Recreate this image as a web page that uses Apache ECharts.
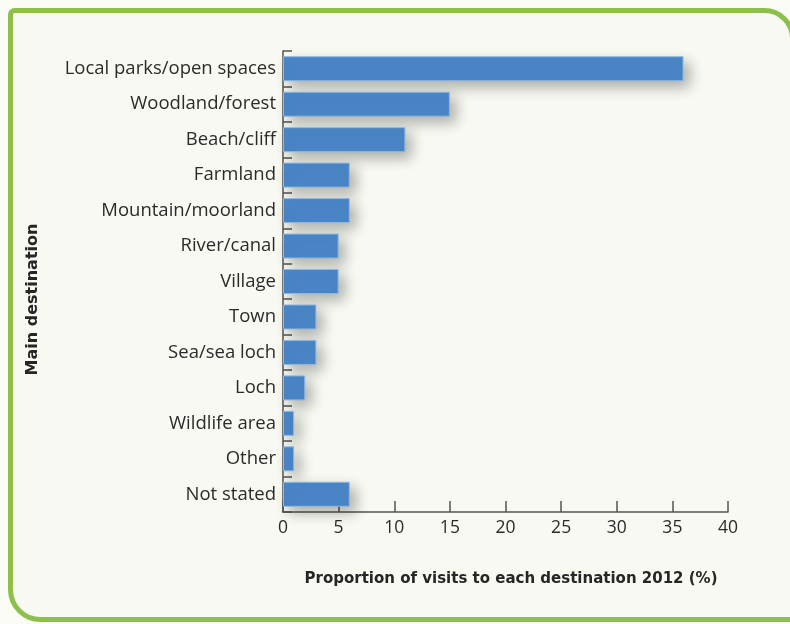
<!DOCTYPE html>
<html>
<head>
<meta charset="utf-8">
<script src="https://cdn.jsdelivr.net/npm/echarts@6/dist/echarts.min.js"></script>
<style>
html,body{margin:0;padding:0;background:#fbfbf6;}
#chart{width:790px;height:624px;}
</style>
</head>
<body>
<div id="chart"></div>
<script>
const categories = ["Local parks/open spaces","Woodland/forest","Beach/cliff","Farmland","Mountain/moorland","River/canal","Village","Town","Sea/sea loch","Loch","Wildlife area","Other","Not stated"];
const values = [36, 15, 11, 6, 6, 5, 5, 3, 3, 2, 1, 1, 6];
const xTicks = [0, 5, 10, 15, 20, 25, 30, 35, 40];
const xTitle = "Proportion of visits to each destination 2012 (%)";
const yTitle = "Main destination";

const chart = echarts.init(document.getElementById('chart'));
chart.setOption({
  backgroundColor: 'transparent',
  animation: false,
  graphic: [{
    type: 'rect',
    z: -10,
    shape: {x: 10.5, y: 10.5, width: 782, height: 609, r: [4, 28, 0, 30]},
    style: {fill: '#f7f9f2', stroke: '#8cc04b', lineWidth: 5}
  }],
  grid: {left: 283, right: 62, top: 51, bottom: 112},
  xAxis: {
    type: 'value', min: xTicks[0], max: xTicks[xTicks.length - 1], interval: 5,
    name: xTitle, nameLocation: 'middle', nameGap: 60,
    nameTextStyle: {fontFamily: 'DejaVu Sans', fontWeight: 'bold', fontSize: 15, color: '#262626', padding: [0, 0, 0, 11]},
    axisLine: {show: true, lineStyle: {color: '#555', width: 1.5}},
    axisTick: {show: true, inside: true, length: 11, lineStyle: {color: '#555', width: 1.5}},
    axisLabel: {fontFamily: 'Open Sans', fontSize: 17.5, color: '#2b2b2b', margin: 7},
    splitLine: {show: false}
  },
  yAxis: {
    type: 'category', data: categories, inverse: true,
    name: yTitle, nameLocation: 'middle', nameGap: 242,
    nameTextStyle: {fontFamily: 'DejaVu Sans', fontWeight: 'bold', fontSize: 16, color: '#262626', padding: [0, 36, 0, 0]},
    axisLine: {show: true, lineStyle: {color: '#555', width: 1.5}},
    axisTick: {show: true, inside: true, length: 9, lineStyle: {color: '#555', width: 1.5}},
    axisLabel: {fontFamily: 'Open Sans', fontSize: 18.5, color: '#2b2b2b', margin: 7}
  },
  series: [{
    type: 'bar', data: values, barWidth: 25,
    itemStyle: {
      color: '#4a86c8', borderColor: '#8fb8e0', borderWidth: 1,
      shadowBlur: 14, shadowColor: 'rgba(0,0,0,0.3)', shadowOffsetX: 6, shadowOffsetY: 6
    }
  }]
});
</script>
</body>
</html>
